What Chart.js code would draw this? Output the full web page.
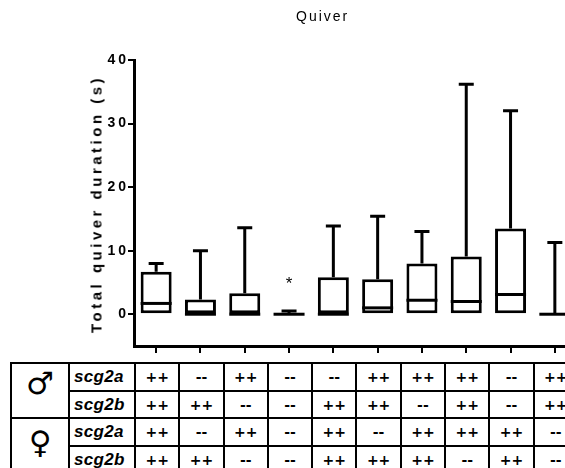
<!DOCTYPE html>
<html>
<head>
<meta charset="utf-8">
<script src="https://cdn.jsdelivr.net/npm/chart.js@4.4.1/dist/chart.umd.min.js"></script>
<style>
body { margin: 0; background: #fff; }
#wrap { position: relative; width: 565px; height: 468px; overflow: hidden; font-family: "Liberation Sans", Arial, sans-serif; color: #000; }
#plot { position: absolute; left: 0; top: 0; }
#title { position: absolute; left: 296px; top: 8px; font-size: 14px; letter-spacing: 2px; }
#ytitle { position: absolute; left: 96px; top: 204px; transform: translate(-50%, -50%) rotate(-90deg); white-space: nowrap; font-size: 15px; font-weight: bold; letter-spacing: 3.5px; }
#geno { position: absolute; left: 10px; top: 362px; border-collapse: collapse; table-layout: fixed; }
#geno td { border: 2px solid #000; height: 25.7px; padding: 0; text-align: center; font-family: "DejaVu Sans", sans-serif; font-weight: bold; font-size: 14px; overflow: hidden; white-space: nowrap; }
#geno td.gene { font-family: "Liberation Sans", Arial, sans-serif; font-style: italic; font-size: 17px; letter-spacing: 0.3px; text-align: left; padding-left: 4px; }
#geno td.sex { font-family: "DejaVu Sans", sans-serif; font-weight: normal; font-size: 31px; }
#geno td.sex span { position: relative; }
#geno td.male span { top: -8px; }
#geno td.female span { top: -4px; }
</style>
</head>
<body>
<div id="wrap">
  <canvas id="plot" width="600" height="360"></canvas>
  <div id="title">Quiver</div>
  <div id="ytitle">Total quiver duration (s)</div>
  <table id="geno"></table>
</div>
<script>
// box plot summary per genotype group
const groups   = ['G1', 'G2', 'G3', 'G4', 'G5', 'G6', 'G7', 'G8', 'G9', 'G10'];
const minima   = [0, 0, 0, 0, 0, 0, 0, 0, 0, 0];
const q1       = [0, 0, 0, 0, 0, 0, 0, 0, 0, 0];
const medians  = [1.7, 0, 0, 0, 0, 1.0, 2.2, 2.0, 3.1, 0];
const q3       = [6.7, 2.3, 3.3, 0, 5.8, 5.5, 8.0, 9.1, 13.5, 0];
const maxima   = [8.0, 10.0, 13.6, 0.5, 13.9, 15.4, 13.0, 36.2, 32.0, 11.3];
const signif   = ['', '', '', '*', '', '', '', '', '', ''];
const yTicks   = [0, 10, 20, 30, 40];

// genotype table
const genes   = ['scg2a', 'scg2b'];
const maleA   = ['++', '--', '++', '--', '--', '++', '++', '++', '--', '++'];
const maleB   = ['++', '++', '--', '--', '++', '++', '--', '++', '--', '++'];
const femaleA = ['++', '--', '++', '--', '++', '--', '++', '++', '++', '--'];
const femaleB = ['++', '++', '--', '--', '++', '++', '++', '--', '++', '--'];

const whiskers = {
  id: 'whiskers',
  beforeDraw(chart) {
    chart.ctx.letterSpacing = '3px';
  },
  afterDatasetsDraw(chart) {
    const { ctx, scales: { x, y } } = chart;
    const meta = chart.getDatasetMeta(0);
    ctx.save();
    ctx.strokeStyle = '#000';
    ctx.lineWidth = 3;
    ctx.lineCap = 'butt';
    groups.forEach((g, i) => {
      const cx = x.getPixelForValue(i);
      const half = meta.data[i].width / 2;
      const cap = 7.5;
      // median
      ctx.beginPath();
      ctx.moveTo(cx - half, y.getPixelForValue(medians[i]));
      ctx.lineTo(cx + half, y.getPixelForValue(medians[i]));
      ctx.stroke();
      // upper whisker
      if (maxima[i] > q3[i]) {
        ctx.beginPath();
        ctx.moveTo(cx, y.getPixelForValue(q3[i]));
        ctx.lineTo(cx, y.getPixelForValue(maxima[i]));
        ctx.moveTo(cx - cap, y.getPixelForValue(maxima[i]));
        ctx.lineTo(cx + cap, y.getPixelForValue(maxima[i]));
        ctx.stroke();
      }
      // lower whisker
      if (minima[i] < q1[i]) {
        ctx.beginPath();
        ctx.moveTo(cx, y.getPixelForValue(q1[i]));
        ctx.lineTo(cx, y.getPixelForValue(minima[i]));
        ctx.moveTo(cx - cap, y.getPixelForValue(minima[i]));
        ctx.lineTo(cx + cap, y.getPixelForValue(minima[i]));
        ctx.stroke();
      }
      if (signif[i]) {
        ctx.letterSpacing = '0px';
        ctx.fillStyle = '#000';
        ctx.font = '17px "Liberation Sans", Arial, sans-serif';
        ctx.textAlign = 'center';
        ctx.textBaseline = 'middle';
        ctx.fillText(signif[i], cx, y.getPixelForValue(maxima[i]) - 27);
      }
    });
    ctx.restore();
  }
};

const chart = new Chart(document.getElementById('plot'), {
  type: 'bar',
  data: {
    labels: groups,
    datasets: [{
      data: groups.map((g, i) => [q1[i], q3[i]]),
      backgroundColor: '#fff',
      borderColor: '#000',
      borderWidth: 3,
      borderSkipped: false,
      categoryPercentage: 1,
      barPercentage: 0.7
    }]
  },
  options: {
    responsive: false,
    animation: false,
    devicePixelRatio: 1,
    layout: { padding: { top: 60, right: 23, bottom: 0, left: 0 } },
    plugins: { legend: { display: false }, tooltip: { enabled: false } },
    scales: {
      x: {
        offset: true,
        ticks: { display: false },
        grid: { offset: false, drawOnChartArea: false, drawTicks: true, tickLength: 7, color: '#000', lineWidth: 2 },
        border: { display: true, color: '#000', width: 3 },
        afterFit: s => { s.height = 14; }
      },
      y: {
        min: -5,
        max: 40,
        afterBuildTicks: s => { s.ticks = yTicks.map(v => ({ value: v })); },
        ticks: {
          color: '#000',
          padding: -1,
          font: { family: '"Liberation Sans", Arial, sans-serif', size: 14, weight: 'bold' }
        },
        grid: { drawOnChartArea: false, drawTicks: true, tickLength: 6, color: '#000', lineWidth: 2 },
        border: { display: true, color: '#000', width: 3 },
        afterFit: s => { s.width = 134; }
      }
    }
  },
  plugins: [whiskers]
});

// build the genotype table on the same column grid as the x axis
const xs = chart.scales.x;
const colW = xs.getPixelForValue(1) - xs.getPixelForValue(0);
const firstEdge = xs.getPixelForValue(0) - colW / 2;
const table = document.getElementById('geno');
let html = '<colgroup><col style="width:58px"><col style="width:' + (firstEdge - 68) + 'px">';
groups.forEach(() => { html += '<col style="width:' + colW + 'px">'; });
html += '</colgroup>';
const rows = [
  ['male', '\u2642', genes[0], maleA],
  [null, null, genes[1], maleB],
  ['female', '\u2640', genes[0], femaleA],
  [null, null, genes[1], femaleB]
];
rows.forEach(r => {
  html += '<tr>';
  if (r[0]) html += '<td class="sex ' + r[0] + '" rowspan="2"><span>' + r[1] + '</span></td>';
  html += '<td class="gene">' + r[2] + '</td>';
  r[3].forEach(v => { html += '<td>' + v + '</td>'; });
  html += '</tr>';
});
table.innerHTML = html;
table.style.width = (58 + (firstEdge - 68) + colW * groups.length) + 'px';
</script>
</body>
</html>
